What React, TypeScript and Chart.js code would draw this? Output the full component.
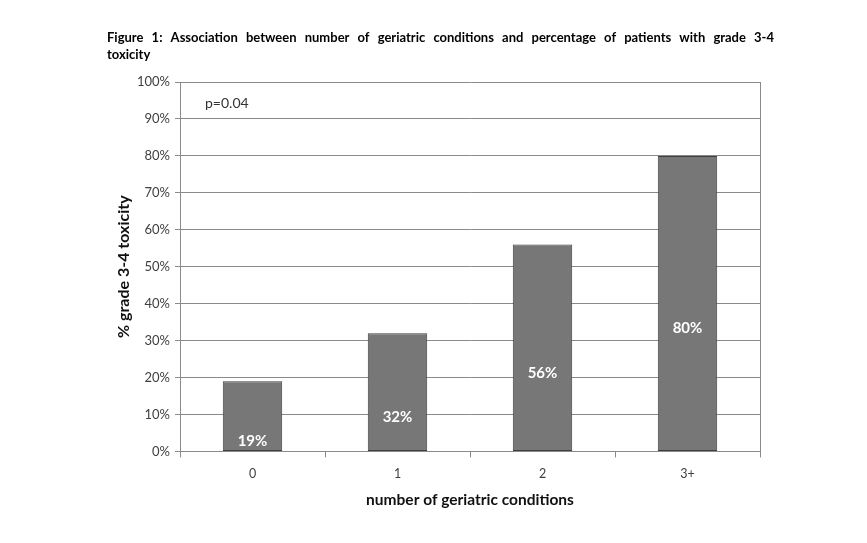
import React, { useEffect, useRef } from "react";
import { Chart, registerables } from "chart.js";

Chart.register(...registerables);

const categories = ["0", "1", "2", "3+"];
const values = [19, 32, 56, 80];
const valueLabels = ["19%", "32%", "56%", "80%"];
const titleLines = [
  "Figure 1: Association between number of geriatric conditions and percentage of patients with grade 3-4",
  "toxicity",
];
const pValueText = "p=0.04";
const yAxisTitle = "% grade 3-4 toxicity";
const xAxisTitle = "number of geriatric conditions";

const FONT = "Lato, 'Open Sans', sans-serif";

const decorPlugin = {
  id: "decor",
  afterDatasetsDraw(chart: any) {
    const ctx = chart.ctx;
    const area = chart.chartArea;
    const yScale = chart.scales.y;
    const meta = chart.getDatasetMeta(0);
    ctx.save();
    // right frame line
    ctx.strokeStyle = "#8a8a8a";
    ctx.lineWidth = 1;
    ctx.beginPath();
    ctx.moveTo(Math.round(area.right) + 0.5, area.top);
    ctx.lineTo(Math.round(area.right) + 0.5, area.bottom);
    ctx.stroke();

    // value labels
    ctx.fillStyle = "#ffffff";
    ctx.font = "bold 15px " + FONT;
    ctx.textAlign = "center";
    ctx.textBaseline = "middle";
    meta.data.forEach((bar: any, i: number) => {
      const y = yScale.getPixelForValue(values[i] / 2) + 25;
      ctx.fillText(valueLabels[i], bar.x, y);
    });

    // p-value annotation
    ctx.fillStyle = "#333333";
    ctx.font = "14px " + FONT;
    ctx.textAlign = "left";
    ctx.fillText(pValueText, area.left + 25, yScale.getPixelForValue(94.3));

    // justified title
    ctx.fillStyle = "#000000";
    ctx.font = "bold 13px " + FONT;
    ctx.textAlign = "left";
    const left = 107;
    const right = 774;
    titleLines.forEach((line, li) => {
      const y = 38 + li * 17;
      const words = line.split(" ");
      if (li === titleLines.length - 1 || words.length < 2) {
        ctx.fillText(line, left, y);
        return;
      }
      const total = words.reduce((s, w) => s + ctx.measureText(w).width, 0);
      const gap = (right - left - total) / (words.length - 1);
      let x = left;
      words.forEach((w) => {
        ctx.fillText(w, x, y);
        x += ctx.measureText(w).width + gap;
      });
    });
    ctx.restore();
  },
};

export default function App() {
  const ref = useRef<HTMLCanvasElement>(null);
  useEffect(() => {
    if (!ref.current) return;
    const chart = new Chart(ref.current, {
      type: "bar",
      data: {
        labels: categories,
        datasets: [
          {
            data: values,
            backgroundColor: "#777777",
            borderColor: "#3f3f3f",
            borderWidth: 1,
            borderSkipped: false,
            barPercentage: 0.41,
            categoryPercentage: 1,
          },
        ],
      },
      options: {
        animation: false,
        responsive: false,
        maintainAspectRatio: false,
        layout: { padding: { left: 110, right: 107, top: 82, bottom: 30 } },
        plugins: {
          legend: { display: false },
          tooltip: { enabled: false },
          title: { display: false },
        },
        scales: {
          x: {
            grid: {
              display: true,
              drawOnChartArea: false,
              drawTicks: true,
              tickLength: 6,
              color: "#8a8a8a",
              offset: true,
            },
            border: { display: true, color: "#8a8a8a" },
            ticks: {
              color: "#404040",
              font: { family: FONT, size: 12.5 },
              padding: 9,
            },
            title: {
              display: true,
              text: xAxisTitle,
              color: "#111111",
              font: { family: FONT, size: 15.5, weight: "bold" },
              padding: { top: 0, bottom: 4 },
            },
          },
          y: {
            min: 0,
            max: 100,
            afterFit: (s: any) => {
              s.width = 70;
            },
            grid: {
              color: "#8a8a8a",
              drawTicks: true,
              tickLength: 5,
            },
            border: { display: true, color: "#8a8a8a" },
            ticks: {
              stepSize: 10,
              color: "#404040",
              font: { family: FONT, size: 13 },
              padding: 5,
              callback: (v: any) => v + "%",
            },
            title: {
              display: true,
              text: yAxisTitle,
              color: "#111111",
              font: { family: FONT, size: 16, weight: "bold" },
              padding: { top: 4, bottom: 4 },
            },
          },
        },
      },
      plugins: [decorPlugin],
    });
    return () => chart.destroy();
  }, []);
  return (
    <div style={{ position: "fixed", left: 0, top: 0, width: 867, height: 543, background: "#fff" }}>
      <canvas ref={ref} width={867} height={543} />
    </div>
  );
}
